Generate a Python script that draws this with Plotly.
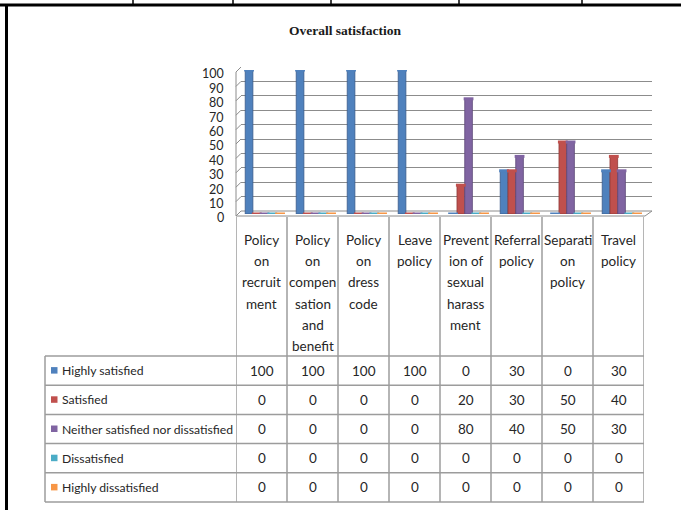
import plotly.graph_objects as go

# ---- data -----------------------------------------------------------------
categories = [
    ["Policy", "on", "recruit", "ment"],
    ["Policy", "on", "compen", "sation", "and", "benefit"],
    ["Policy", "on", "dress", "code"],
    ["Leave", "policy"],
    ["Prevent", "ion of", "sexual", "harass", "ment"],
    ["Referral", "policy"],
    ["Separati", "on", "policy"],
    ["Travel", "policy"],
]
series_names = [
    "Highly satisfied",
    "Satisfied",
    "Neither satisfied nor dissatisfied",
    "Dissatisfied",
    "Highly dissatisfied",
]
highly_satisfied = [100, 100, 100, 100, 0, 30, 0, 30]
satisfied = [0, 0, 0, 0, 20, 30, 50, 40]
neither = [0, 0, 0, 0, 80, 40, 50, 30]
dissatisfied = [0, 0, 0, 0, 0, 0, 0, 0]
highly_dissatisfied = [0, 0, 0, 0, 0, 0, 0, 0]
y_ticks = [0, 10, 20, 30, 40, 50, 60, 70, 80, 90, 100]

series_values = [highly_satisfied, satisfied, neither, dissatisfied, highly_dissatisfied]

# ---- styling --------------------------------------------------------------
fills = ["#4F81BD", "#C0504D", "#8064A2", "#4BACC6", "#F79646"]
edges = ["#36598A", "#8E3836", "#5C4777", "#35808F", "#B8702F"]
FONT = "Lato, Liberation Sans, sans-serif"
TXT = "#262626"
GRID = "#8c8c8c"
TABLE = "#9c9c9c"

W, H = 681, 510


def px(x):
    return x / W


def py(y):
    return 1 - y / H


# plot geometry (pixels)
COL_L, COL_W = 236, 51              # category columns of the chart/table
N = len(categories)
COL_R = COL_L + COL_W * N
FRONT_BASE, BACK_BASE = 216, 211    # floor front / back edge
BAR_BASE = 214                      # value 0 for the bars
UNIT = 1.44                         # px per value unit
DEPTH_X = 5
ROW_TOP, ROW_H = 356, 29.2
TABLE_L = 45
HEAD_Y, HEAD_STEP = 240, 21.2

fig = go.Figure()

# back wall gridlines (drawn first, behind bars)
fig.add_trace(go.Scatter(x=[None], y=[None], xaxis="x", yaxis="y",
                         showlegend=False, hoverinfo="skip"))

# bars
bar_w = 0.15
step = 0.152
shift = 0.06
for s, (name, vals) in enumerate(zip(series_names, series_values)):
    xs = [i + shift + (s - 2) * step for i in range(N)]
    fig.add_trace(go.Bar(
        x=xs, y=vals, width=bar_w, name=name,
        marker=dict(color=fills[s], line=dict(color=edges[s], width=0.8)),
        xaxis="x2", yaxis="y2", showlegend=False,
    ))
    # cylinder caps (also the flat discs of zero-valued bars)
    fig.add_trace(go.Scatter(
        x=xs, y=vals, mode="markers", xaxis="x2", yaxis="y2",
        marker=dict(symbol="line-ew", size=7,
                    line=dict(color=fills[s], width=3)),
        showlegend=False, hoverinfo="skip",
    ))

shapes = []
annotations = []


def label(text, x, y, xref="paper", yref="paper", xanchor="center", size=13.5,
          **kw):
    annotations.append(dict(x=x, y=y, xref=xref, yref=yref, text=text,
                            showarrow=False, xanchor=xanchor, yanchor="middle",
                            font=dict(family=FONT, size=size, color=TXT), **kw))


# floor
floor_path = (f"M {px(COL_L)},{py(FRONT_BASE)} L {px(COL_R + 1)},{py(FRONT_BASE)} "
              f"L {px(COL_R + 1 + DEPTH_X + 2)},{py(BACK_BASE)} "
              f"L {px(COL_L + DEPTH_X)},{py(BACK_BASE)} Z")
shapes.append(dict(type="path", path=floor_path, xref="paper", yref="paper",
                   fillcolor="white", line=dict(color=GRID, width=1), layer="below"))

# left side wall
shapes.append(dict(type="line", xref="paper", yref="paper",
                   x0=px(COL_L), x1=px(COL_L),
                   y0=py(FRONT_BASE), y1=py(FRONT_BASE - 100 * UNIT),
                   line=dict(color=GRID, width=1)))
for v in y_ticks:
    shapes.append(dict(type="line", xref="paper", yref="paper",
                       x0=px(COL_L), y0=py(FRONT_BASE - v * UNIT),
                       x1=px(COL_L + DEPTH_X), y1=py(BACK_BASE - v * UNIT),
                       line=dict(color=GRID, width=1)))

# y tick labels
for v in y_ticks:
    label(str(v), px(226), v, yref="y2", xanchor="right", size=12.5, yshift=-4)

# table: column separators
for k in range(N + 1):
    shapes.append(dict(type="line", xref="x2", yref="paper",
                       x0=k - 0.5, x1=k - 0.5, y0=py(FRONT_BASE + 1),
                       y1=py(ROW_TOP + ROW_H * len(series_names)),
                       line=dict(color=TABLE, width=1.5)))
# table: row lines
for r in range(len(series_names) + 1):
    yy = py(ROW_TOP + ROW_H * r)
    shapes.append(dict(type="line", xref="paper", yref="paper",
                       x0=px(TABLE_L), x1=px(COL_R), y0=yy, y1=yy,
                       line=dict(color=TABLE, width=1.5)))
shapes.append(dict(type="line", xref="paper", yref="paper",
                   x0=px(TABLE_L), x1=px(TABLE_L), y0=py(ROW_TOP),
                   y1=py(ROW_TOP + ROW_H * len(series_names)),
                   line=dict(color=TABLE, width=1.5)))

# category headers
for i, lines in enumerate(categories):
    for j, word in enumerate(lines):
        label(word, i, py(HEAD_Y + HEAD_STEP * j), xref="x2")

# rows: legend key, label and values
for r, (name, vals) in enumerate(zip(series_names, series_values)):
    yc = ROW_TOP + ROW_H * (r + 0.5)
    shapes.append(dict(type="rect", xref="paper", yref="paper",
                       x0=px(51), x1=px(57.5), y0=py(yc + 3), y1=py(yc - 3.5),
                       fillcolor=fills[r], line=dict(width=0)))
    label(name, px(60), py(yc), xanchor="left", size=12.2)
    for i, v in enumerate(vals):
        label(str(v), i, py(yc), xref="x2")

# title
annotations.append(dict(x=px(345), y=py(30), xref="paper", yref="paper",
                        text="<b>Overall satisfaction</b>", showarrow=False,
                        xanchor="center", yanchor="middle",
                        font=dict(family="Liberation Serif, serif", size=13.5,
                                  color="#1a1a1a")))

# page frame around the chart
shapes.append(dict(type="line", xref="paper", yref="paper",
                   x0=0, x1=1, y0=py(5), y1=py(5),
                   line=dict(color="black", width=3)))
shapes.append(dict(type="line", xref="paper", yref="paper",
                   x0=px(6.5), x1=px(6.5), y0=py(5), y1=0,
                   line=dict(color="black", width=3)))
for xt in [133, 233, 331, 459, 582]:
    shapes.append(dict(type="line", xref="paper", yref="paper",
                       x0=px(xt), x1=px(xt), y0=1, y1=py(5),
                       line=dict(color="black", width=1.5)))

hidden = dict(showgrid=False, zeroline=False, showline=False,
              showticklabels=False, ticks="")

fig.update_layout(
    width=W, height=H,
    margin=dict(l=0, r=0, t=0, b=0),
    paper_bgcolor="white", plot_bgcolor="rgba(0,0,0,0)",
    barmode="overlay",
    showlegend=False,
    xaxis=dict(domain=[px(COL_L + DEPTH_X), px(COL_R + DEPTH_X + 3)],
               range=[0, 1], anchor="y", fixedrange=True, **hidden),
    yaxis=dict(domain=[py(BACK_BASE), py(BACK_BASE - 100 * UNIT)],
               range=[0, 100], anchor="x", dtick=10, showgrid=True,
               gridcolor=GRID, gridwidth=1, zeroline=False, showline=False,
               showticklabels=False, ticks=""),
    xaxis2=dict(domain=[px(COL_L), px(COL_R)], range=[-0.5, N - 0.5],
                anchor="y2", **hidden),
    yaxis2=dict(domain=[py(BAR_BASE), py(BAR_BASE - 100 * UNIT)],
                range=[0, 100], anchor="x2", **hidden),
    shapes=shapes,
    annotations=annotations,
)

fig.write_html("out.html")
